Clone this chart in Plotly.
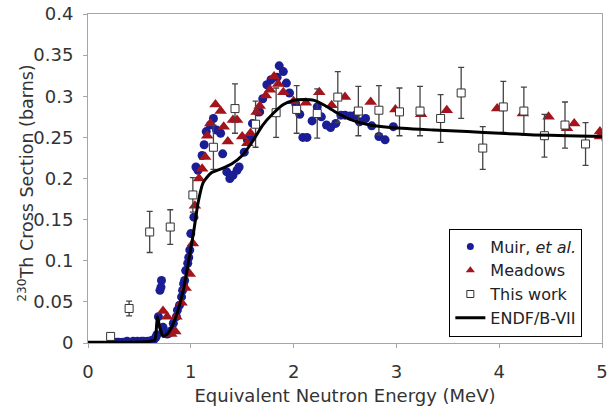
import plotly.graph_objects as go

# ENDF/B-VII evaluation
endf_x = [0.0, 0.3, 0.6, 0.65, 0.675, 0.70, 0.73, 0.78, 0.85, 0.93, 1.0, 1.03, 1.07, 1.12, 1.2, 1.3, 1.4,
          1.5, 1.6, 1.7, 1.8, 1.9, 2.0, 2.1, 2.2, 2.3, 2.42, 2.55, 2.71, 2.94, 3.36, 3.69, 4.01, 4.34, 4.66, 5.0]
endf_y = [0.001, 0.001, 0.002, 0.004, 0.032, 0.018, 0.008, 0.012, 0.030, 0.066, 0.115, 0.137, 0.170, 0.195,
          0.207, 0.212, 0.218, 0.228, 0.245, 0.265, 0.279, 0.290, 0.295, 0.296, 0.295, 0.289, 0.280, 0.272,
          0.266, 0.262, 0.259, 0.257, 0.255, 0.253, 0.252, 0.251]

# Muir et al.
muir_x = [0.28, 0.30, 0.32, 0.34, 0.36, 0.38, 0.40, 0.42, 0.44, 0.46, 0.48, 0.50, 0.52, 0.54, 0.56, 0.58,
          0.60, 0.62, 0.64, 0.66, 0.67, 0.685, 0.70, 0.71, 0.715, 0.73, 0.75, 0.77, 0.79, 0.81, 0.83, 0.86,
          0.87, 0.89, 0.91, 0.92, 0.93, 0.94, 0.95, 0.97, 0.98, 0.99, 1.0, 1.03, 1.05, 1.07, 1.11, 1.13,
          1.15, 1.19, 1.22, 1.25, 1.29, 1.31, 1.35, 1.38, 1.41, 1.45, 1.47, 1.52, 1.55, 1.58, 1.60, 1.65,
          1.67, 1.70, 1.74, 1.78, 1.84, 1.86, 1.90, 1.93, 1.96, 2.02, 2.06, 2.09, 2.13, 2.18, 2.23, 2.27,
          2.32, 2.36, 2.41, 2.46, 2.50, 2.55, 2.60, 2.64, 2.70, 2.76, 2.83, 2.89, 2.97]
muir_y = [0.001, 0.001, 0.000, 0.001, 0.001, 0.002, 0.001, 0.001, 0.002, 0.001, 0.002, 0.001, 0.002, 0.002,
          0.001, 0.002, 0.002, 0.003, 0.004, 0.007, 0.010, 0.032, 0.064, 0.068, 0.076, 0.019, 0.013, 0.011,
          0.012, 0.015, 0.024, 0.032, 0.040, 0.046, 0.056, 0.064, 0.072, 0.076, 0.088, 0.097, 0.104, 0.113,
          0.133, 0.153, 0.214, 0.210, 0.228, 0.241, 0.257, 0.265, 0.273, 0.259, 0.255, 0.230, 0.208, 0.200,
          0.204, 0.210, 0.214, 0.232, 0.247, 0.249, 0.267, 0.281, 0.281, 0.297, 0.314, 0.320, 0.323, 0.337,
          0.330, 0.316, 0.304, 0.291, 0.278, 0.250, 0.250, 0.270, 0.287, 0.275, 0.265, 0.262, 0.267, 0.277,
          0.277, 0.276, 0.277, 0.269, 0.273, 0.264, 0.251, 0.247, 0.263]

# Meadows
mead_x = [0.73, 0.77, 0.81, 0.85, 0.86, 0.91, 0.95, 0.99, 1.02, 1.04, 1.08, 1.11, 1.14, 1.16, 1.19, 1.24,
          1.29, 1.32, 1.36, 1.41, 1.45, 1.50, 1.55, 1.58, 1.64, 1.67, 1.73, 1.77, 1.81, 1.85, 1.90, 2.0,
          2.12, 2.25, 2.37, 2.50, 2.75, 2.99, 3.24, 3.49, 3.98, 4.23, 4.48, 4.66, 4.73, 4.98, 4.98]
mead_y = [0.039, 0.032, 0.011, 0.014, 0.032, 0.049, 0.067, 0.084, 0.121, 0.167, 0.200, 0.212, 0.226, 0.252,
          0.267, 0.290, 0.282, 0.263, 0.245, 0.271, 0.271, 0.251, 0.243, 0.255, 0.281, 0.288, 0.301, 0.308,
          0.324, 0.315, 0.305, 0.294, 0.292, 0.305, 0.289, 0.299, 0.293, 0.284, 0.278, 0.283, 0.285, 0.279,
          0.275, 0.261, 0.267, 0.257, 0.251]

# This work
tw_x = [0.22, 0.40, 0.60, 0.80, 1.02, 1.22, 1.43, 1.63, 1.83, 2.03, 2.23, 2.43, 2.63, 2.83, 3.03, 3.23,
        3.43, 3.63, 3.84, 4.04, 4.24, 4.44, 4.64, 4.84, 5.04]
tw_y = [0.008, 0.042, 0.135, 0.141, 0.180, 0.238, 0.285, 0.266, 0.280, 0.284, 0.279, 0.299, 0.282, 0.283,
        0.281, 0.282, 0.273, 0.304, 0.237, 0.287, 0.282, 0.252, 0.265, 0.242, 0.250]
tw_err = [0.002, 0.009, 0.025, 0.021, 0.021, 0.027, 0.030, 0.028, 0.030, 0.029, 0.030, 0.031, 0.030, 0.030,
          0.029, 0.030, 0.029, 0.031, 0.026, 0.031, 0.029, 0.026, 0.028, 0.026, 0.026]

FONT = "DejaVu Sans"
BLUE = "#1a1d94"
RED = "#a3141c"
TXT = "#333333"

fig = go.Figure()
fig.add_trace(go.Scatter(x=muir_x, y=muir_y, mode="markers", showlegend=False,
                         marker=dict(symbol="circle", size=9, color=BLUE)))
fig.add_trace(go.Scatter(x=mead_x, y=mead_y, mode="markers", showlegend=False,
                         marker=dict(symbol="triangle-up", size=11, color=RED)))
fig.add_trace(go.Scatter(x=tw_x, y=tw_y, mode="markers", showlegend=False,
                         marker=dict(symbol="square", size=8, color="white",
                                     line=dict(color="#333333", width=1)),
                         error_y=dict(type="data", array=tw_err, color="#444444", thickness=1.3, width=3)))
fig.add_trace(go.Scatter(x=endf_x, y=endf_y, mode="lines", showlegend=False,
                         line=dict(color="black", width=3, shape="spline", smoothing=0.6)))

# legend entries (smaller symbols, as in the reference legend)
fig.add_trace(go.Scatter(x=[None], y=[None], mode="markers", name="Muir, <i>et al.</i>",
                         marker=dict(symbol="circle", size=7, color=BLUE)))
fig.add_trace(go.Scatter(x=[None], y=[None], mode="markers", name="Meadows",
                         marker=dict(symbol="triangle-up", size=8, color=RED)))
fig.add_trace(go.Scatter(x=[None], y=[None], mode="markers", name="This work",
                         marker=dict(symbol="square", size=7, color="white",
                                     line=dict(color="#333333", width=1))))
fig.add_trace(go.Scatter(x=[None], y=[None], mode="lines", name="ENDF/B-VII",
                         line=dict(color="black", width=3)))

axis_common = dict(showline=True, linecolor="#a6a6a6", linewidth=1, mirror=True, showgrid=False,
                   zeroline=False, ticks="outside", tickcolor="#a6a6a6", ticklen=4, automargin=False,
                   tickfont=dict(family=FONT, size=18, color=TXT))
fig.update_xaxes(range=[0, 5], dtick=1, tick0=0, ticklabelstandoff=8,
                 title=dict(text="Equivalent Neutron Energy (MeV)",
                            font=dict(family=FONT, size=18, color=TXT), standoff=8),
                 **axis_common)
fig.update_yaxes(range=[0, 0.4], dtick=0.05, tick0=0, ticklabelstandoff=6, **axis_common)

fig.update_layout(
    width=613, height=413,
    margin=dict(l=88, r=11, t=14, b=70),
    paper_bgcolor="white", plot_bgcolor="white",
    showlegend=True,
    legend=dict(x=0.703, y=0.348, xanchor="left", yanchor="top",
                bgcolor="white", bordercolor="black", borderwidth=1,
                font=dict(family=FONT, size=16, color="#222222"),
                tracegroupgap=0, itemwidth=30),
    annotations=[dict(text="<sup>230</sup>Th Cross Section (barns)", textangle=-90,
                      xref="paper", yref="paper", x=-0.12, y=0.485,
                      xanchor="center", yanchor="middle", showarrow=False,
                      font=dict(family=FONT, size=17.5, color=TXT))],
)

fig.write_html("out.html")
